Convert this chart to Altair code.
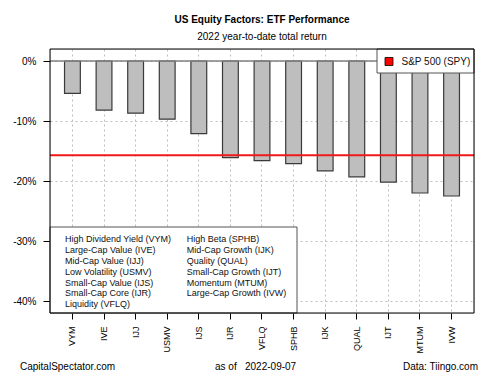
import altair as alt
import pandas as pd

# ---------------- data ----------------
tickers = ["VYM", "IVE", "IJJ", "USMV", "IJS", "IJR", "VFLQ", "SPHB", "IJK", "QUAL", "IJT", "MTUM", "IVW"]
returns = [-5.4, -8.2, -8.7, -9.7, -12.1, -16.1, -16.6, -17.1, -18.3, -19.3, -20.2, -22.0, -22.5]
spy_return = -15.7
spy_label = "S&P 500 (SPY)"
y_ticks = [0, -10, -20, -30, -40]
legend_left = ["High Dividend Yield (VYM)", "Large-Cap Value (IVE)", "Mid-Cap Value (IJJ)",
               "Low Volatility (USMV)", "Small-Cap Value (IJS)", "Small-Cap Core (IJR)", "Liquidity (VFLQ)"]
legend_right = ["High Beta (SPHB)", "Mid-Cap Growth (IJK)", "Quality (QUAL)",
                "Small-Cap Growth (IJT)", "Momentum (MTUM)", "Large-Cap Growth (IVW)"]
title_text = "US Equity Factors: ETF Performance"
subtitle_text = "2022 year-to-date total return"
footer_left = "CapitalSpectator.com"
footer_asof = "as of"
footer_date = "2022-09-07"
footer_right = "Data: Tiingo.com"

# ---------------- layout ----------------
W, H = 424, 264
FONT = "Liberation Sans"
one = pd.DataFrame({"k": [0]})

df = pd.DataFrame({"ticker": tickers, "ret": returns})

x_enc = alt.X("ticker:N", sort=tickers,
              scale=alt.Scale(paddingInner=0.5, paddingOuter=0.46),
              axis=alt.Axis(title=None, labelAngle=-90, grid=True, bandPosition=0.5,
                            gridDash=[2, 3], gridColor="#bdbdbd", gridWidth=1,
                            domain=False, tickSize=6, tickColor="black", tickWidth=1,
                            labelPadding=7, labelFontSize=9, labelColor="black",
                            labelFont=FONT))
y_enc = alt.Y("ret:Q",
              scale=alt.Scale(domain=[-42, 2], nice=False),
              axis=alt.Axis(title=None, values=y_ticks, labelExpr="datum.value + '%'",
                            grid=True, gridDash=[2, 3], gridColor="#bdbdbd", gridWidth=1,
                            domain=False, tickSize=7, tickColor="black", tickWidth=1,
                            labelPadding=7, labelFontSize=10, labelColor="black",
                            labelFont=FONT))

bars = alt.Chart(df).mark_bar(fill="#BEBEBE", stroke="#3a3a3a", strokeWidth=1.2).encode(
    x=x_enc, y=y_enc, y2=alt.datum(0))

zero_rule = alt.Chart(one).mark_rule(color="#808080", strokeWidth=1.5).encode(y=alt.datum(0))
spy_rule = alt.Chart(one).mark_rule(color="#F01818", strokeWidth=2).encode(y=alt.datum(spy_return))

def box(x0, x1, y0, y1, **kw):
    return alt.Chart(one).mark_rect(**kw).encode(
        x=alt.value(x0), x2=alt.value(x1), y=alt.value(y0), y2=alt.value(y1))

def txt(label, px, py, size=9, align="left", bold=False, color="#111"):
    return alt.Chart(pd.DataFrame({"label": [label]})).mark_text(
        align=align, baseline="middle", fontSize=size, font=FONT, color=color,
        fontWeight="bold" if bold else "normal").encode(
        x=alt.value(px), y=alt.value(py), text="label:N")

layers = [bars, zero_rule, spy_rule]

# bottom-left legend
layers.append(box(0, 247, 178, H, fill="white", stroke="#555", strokeWidth=1))
row_h = 10.8
for i, lab in enumerate(legend_left):
    layers.append(txt(lab, 15, 190.3 + i * row_h))
for i, lab in enumerate(legend_right):
    layers.append(txt(lab, 136.7, 190.3 + i * row_h))

# top-right legend
layers.append(box(327, W, 0, 24, fill="white", stroke="#555", strokeWidth=1))
layers.append(box(335, 343, 8.5, 16.5, fill="#FF0000", stroke="black", strokeWidth=0.8))
layers.append(txt(spy_label, 351.5, 12.5, size=10))

# frame
layers.append(box(0, W, 0, H, fillOpacity=0, stroke="black", strokeWidth=1))

# titles & footer
layers.append(txt(title_text, W / 2, -29.5, size=10, align="center", bold=True, color="black"))
layers.append(txt(subtitle_text, W / 2, -12, size=10, align="center", color="black"))
layers.append(txt(footer_left, -30, 318, size=10, color="black"))
layers.append(txt(footer_asof, 165, 318, size=10, color="black"))
layers.append(txt(footer_date, 195, 318, size=10, color="black"))
layers.append(txt(footer_right, 428, 318, size=10, align="right", color="black"))

chart = alt.layer(*layers).properties(
    width=W, height=H,
    autosize=alt.AutoSizeParams(type="none"),
    padding={"left": 50, "top": 49, "right": 26, "bottom": 62},
    background="white",
).configure_view(strokeWidth=0).configure(font=FONT)

chart.save("out.html", embed_options={"renderer": "svg", "actions": False})
